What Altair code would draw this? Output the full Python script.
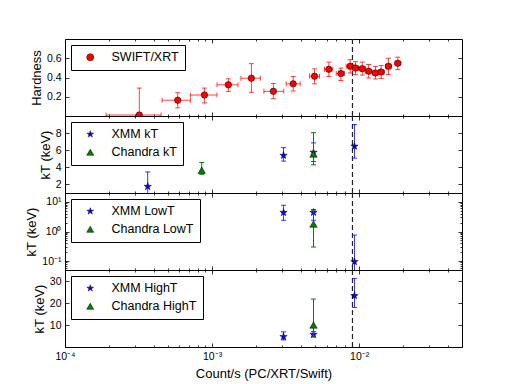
import altair as alt
import pandas as pd

# ---------------- data ----------------
swift_rate = [3.2e-4, 5.84e-4, 8.87e-4, 1.29e-3, 1.85e-3, 2.61e-3, 3.56e-3, 4.97e-3, 6.22e-3,
              7.51e-3, 8.68e-3, 9.44e-3, 1.05e-2, 1.16e-2, 1.29e-2, 1.41e-2, 1.58e-2, 1.83e-2]
swift_rate_lo = [1.9e-4, 4.57e-4, 7.12e-4, 1.08e-3, 1.57e-3, 2.25e-3, 3.19e-3, 4.59e-3, 5.81e-3,
                 6.98e-3, 8.16e-3, 9.0e-3, 1.0e-2, 1.1e-2, 1.23e-2, 1.35e-2, 1.51e-2, 1.75e-2]
swift_rate_hi = [4.5e-4, 7.12e-4, 1.08e-3, 1.50e-3, 2.13e-3, 3.07e-3, 3.97e-3, 5.37e-3, 6.62e-3,
                 7.94e-3, 9.2e-3, 9.9e-3, 1.1e-2, 1.22e-2, 1.35e-2, 1.48e-2, 1.65e-2, 1.92e-2]
swift_hr = [0.01, 0.164, 0.218, 0.324, 0.393, 0.256, 0.334, 0.413, 0.485,
            0.441, 0.516, 0.498, 0.492, 0.465, 0.447, 0.457, 0.516, 0.547]
swift_hr_lo = [-0.1, 0.085, 0.136, 0.256, 0.246, 0.18, 0.26, 0.334, 0.41,
               0.369, 0.447, 0.43, 0.425, 0.395, 0.385, 0.39, 0.43, 0.482]
swift_hr_hi = [0.29, 0.242, 0.29, 0.386, 0.544, 0.338, 0.41, 0.49, 0.56,
               0.498, 0.585, 0.565, 0.56, 0.535, 0.515, 0.525, 0.60, 0.611]

xmm_kt_rate = [3.65e-4, 3.06e-3, 4.89e-3, 9.29e-3]
xmm_kt = [1.76, 5.39, 5.75, 6.46]
xmm_kt_lo = [0.5, 4.73, 4.68, 5.08]
xmm_kt_hi = [3.46, 6.3, 6.86, 9.0]
chandra_kt_rate = [8.5e-4, 4.89e-3]
chandra_kt = [3.66, 5.56]
chandra_kt_lo = [3.19, 4.29]
chandra_kt_hi = [4.56, 8.05]

xmm_low_rate = [3.06e-3, 4.89e-3, 9.29e-3]
xmm_low = [4.37, 4.4, 0.095]
xmm_low_lo = [2.4, 2.4, 0.01]
xmm_low_hi = [7.7, 5.5, 0.76]
chandra_low_rate = [4.89e-3]
chandra_low = [1.78]
chandra_low_lo = [0.3]
chandra_low_hi = [5.3]

xmm_high_rate = [3.06e-3, 4.89e-3, 9.29e-3]
xmm_high = [4.7, 5.7, 23.3]
xmm_high_lo = [3.2, 4.5, 18.0]
xmm_high_hi = [6.9, 7.0, 31.2]
chandra_high_rate = [4.89e-3]
chandra_high = [10.0]
chandra_high_lo = [5.0]
chandra_high_hi = [21.8]

dash_rate = [0.009]

x_domain = [1e-4, 5e-2]
x_major = [1e-4, 1e-3, 1e-2]
x_minor = [2e-4, 3e-4, 4e-4, 5e-4, 6e-4, 7e-4, 8e-4, 9e-4,
           2e-3, 3e-3, 4e-3, 5e-3, 6e-3, 7e-3, 8e-3, 9e-3,
           2e-2, 3e-2, 4e-2]
x_title = "Count/s (PC/XRT/Swift)"

# ---------------- style ----------------
W, H = 397, 77
FONT = "Liberation Sans"
RED, BLUE, GREEN = "#ff0000", "#0000ff", "#008000"
STAR = ("M0,-1L0.2245,-0.309L0.951,-0.309L0.363,0.118L0.588,0.809L0,0.382"
        "L-0.588,0.809L-0.363,0.118L-0.951,-0.309L-0.2245,-0.309Z")
SUP = {-4: "⁻⁴", -3: "⁻³", -2: "⁻²", -1: "⁻¹", 0: "⁰", 1: "¹"}
MAJ = alt.ExprRef(expr="-4")
MIN = alt.ExprRef(expr="-2")


def pow_label_expr(exps):
    expr = "''"
    for e in exps:
        v = 10.0 ** e
        expr = f"abs(datum.value - {v!r}) < {v * 1e-6!r} ? '10{SUP[e]}' : ({expr})"
    return expr


def xs():
    return alt.Scale(type="log", domain=x_domain, nice=False)


def tick_axis(orient, values, size):
    return alt.Axis(orient=orient, values=values, ticks=True, tickSize=size, tickColor="black",
                    tickWidth=0.8, domain=False, grid=False, labels=False, title=None)


def legend():
    return alt.Legend(title=None, orient="top-left", offset=6, fillColor="white",
                      strokeColor="black", padding=6, symbolOffset=7, labelOffset=15,
                      labelFont=FONT, labelFontSize=12.5, rowPadding=5, symbolSize=50,
                      symbolStrokeColor="black", symbolStrokeWidth=0.5)


def series_layers(rate, val, lo, hi, name, ys, cdom, crange, sdom, srange, color,
                  msize, rate_lo=None, rate_hi=None, eopacity=0.8):
    d = {"x": rate, "y": val, "lo": lo, "hi": hi, "series": [name] * len(rate)}
    if rate_lo is not None:
        d["xlo"] = rate_lo
        d["xhi"] = rate_hi
    df = pd.DataFrame(d)
    base = alt.Chart(df)

    def X(f):
        return alt.X(f, type="quantitative", scale=xs(), axis=None)

    def Y(f):
        return alt.Y(f, type="quantitative", scale=ys, axis=None)

    layers = [
        base.mark_rule(color=color, strokeWidth=1, opacity=eopacity, clip=True).encode(
            x=X("x"), y=Y("lo"), y2="hi"),
        base.mark_tick(orient="horizontal", size=5, thickness=1, color=color,
                       opacity=eopacity, clip=True).encode(x=X("x"), y=Y("lo")),
        base.mark_tick(orient="horizontal", size=5, thickness=1, color=color,
                       opacity=eopacity, clip=True).encode(x=X("x"), y=Y("hi")),
    ]
    if rate_lo is not None:
        layers += [
            base.mark_rule(color=color, strokeWidth=1, opacity=eopacity, clip=True).encode(
                x=X("xlo"), x2="xhi", y=Y("y")),
            base.mark_tick(orient="vertical", size=5, thickness=1, color=color,
                           opacity=eopacity, clip=True).encode(x=X("xlo"), y=Y("y")),
            base.mark_tick(orient="vertical", size=5, thickness=1, color=color,
                           opacity=eopacity, clip=True).encode(x=X("xhi"), y=Y("y")),
        ]
    layers.append(
        base.mark_point(filled=True, size=msize, stroke="black", strokeWidth=0.5,
                        opacity=1, clip=True).encode(
            x=X("x"), y=Y("y"),
            color=alt.Color("series:N", scale=alt.Scale(domain=cdom, range=crange),
                            legend=legend()),
            shape=alt.Shape("series:N", scale=alt.Scale(domain=sdom, range=srange),
                            legend=legend()),
        )
    )
    return layers


def panel(ys_kwargs, ymid, ylab_values, yminor, ytitle, data_layers,
          bottom=False, ylabel_expr=None, yformat=None):
    def ys():
        return alt.Scale(**ys_kwargs)

    anchor = pd.DataFrame({"x": [1e-3], "y": [ymid]})
    ax_kw = dict(values=ylab_values, ticks=True, tickSize=MAJ, tickColor="black",
                 tickWidth=0.8, domain=False, grid=False, labelPadding=8, labelFlush=False,
                 title=ytitle, titlePadding=3)
    if ylabel_expr:
        ax_kw["labelExpr"] = ylabel_expr
    elif yformat:
        ax_kw["format"] = yformat
    if bottom:
        xaxis = alt.Axis(values=x_major, ticks=True, tickSize=MAJ, tickColor="black",
                         tickWidth=0.8, domain=False, grid=False, labelPadding=8,
                         labelFlush=False, labelExpr=pow_label_expr([-4, -3, -2]),
                         title=x_title, titlePadding=6)
    else:
        xaxis = tick_axis("bottom", x_major, MAJ)
    layers = [
        alt.Chart(anchor).mark_point(opacity=0).encode(
            x=alt.X("x:Q", scale=xs(), axis=xaxis),
            y=alt.Y("y:Q", scale=ys(), axis=alt.Axis(**ax_kw))),
        alt.Chart(anchor).mark_point(opacity=0).encode(
            x=alt.X("x:Q", scale=xs(), axis=tick_axis("top", x_major, MAJ)),
            y=alt.Y("y:Q", scale=ys(), axis=tick_axis("right", ylab_values, MAJ))),
        alt.Chart(anchor).mark_point(opacity=0).encode(
            x=alt.X("x:Q", scale=xs(), axis=tick_axis("bottom", x_minor, MIN)),
            y=alt.Y("y:Q", scale=ys(),
                    axis=tick_axis("left", yminor, MIN) if yminor else None)),
        alt.Chart(anchor).mark_point(opacity=0).encode(
            x=alt.X("x:Q", scale=xs(), axis=tick_axis("top", x_minor, MIN)),
            y=alt.Y("y:Q", scale=ys(),
                    axis=tick_axis("right", yminor, MIN) if yminor else None)),
        alt.Chart(pd.DataFrame({"x": dash_rate})).mark_rule(
            color="#222222", strokeWidth=1.2, strokeDash=[5, 3]).encode(
            x=alt.X("x:Q", scale=xs(), axis=None)),
    ]
    for f in data_layers:
        layers += f(ys())
    return alt.layer(*layers).resolve_axis(x="independent", y="independent").properties(
        width=W, height=H)


SH = [STAR, "triangle-up"]
CL = [BLUE, GREEN]

p1 = panel(dict(domain=[0, 0.8], nice=False, zero=False), 0.4, [0.2, 0.4, 0.6], [],
           "Hardness",
           [lambda ys: series_layers(swift_rate, swift_hr, swift_hr_lo, swift_hr_hi,
                                     "SWIFT/XRT", ys, ["SWIFT/XRT"], [RED],
                                     ["SWIFT/XRT"], ["circle"], RED, 42,
                                     swift_rate_lo, swift_rate_hi, 0.75)],
           yformat=".1f")

n2 = ["XMM kT", "Chandra kT"]
p2 = panel(dict(domain=[1, 10], nice=False, zero=False), 5, [2, 4, 6, 8], [], "kT (keV)",
           [lambda ys: series_layers(xmm_kt_rate, xmm_kt, xmm_kt_lo, xmm_kt_hi, n2[0],
                                     ys, n2, CL, n2, SH, BLUE, 60),
            lambda ys: series_layers(chandra_kt_rate, chandra_kt, chandra_kt_lo, chandra_kt_hi,
                                     n2[1], ys, n2, CL, n2, SH, GREEN, 55, eopacity=1)])

n3 = ["XMM LowT", "Chandra LowT"]
log_minor = [0.05, 0.06, 0.07, 0.08, 0.09, 0.2, 0.3, 0.4, 0.5, 0.6, 0.7, 0.8, 0.9,
             2, 3, 4, 5, 6, 7, 8, 9, 20]
p3 = panel(dict(type="log", domain=[0.05, 20], nice=False), 1, [0.1, 1, 10], log_minor,
           "kT (keV)",
           [lambda ys: series_layers(xmm_low_rate, xmm_low, xmm_low_lo, xmm_low_hi, n3[0],
                                     ys, n3, CL, n3, SH, BLUE, 60),
            lambda ys: series_layers(chandra_low_rate, chandra_low, chandra_low_lo,
                                     chandra_low_hi, n3[1], ys, n3, CL, n3, SH, GREEN, 55,
                                     eopacity=1)],
           ylabel_expr=pow_label_expr([-1, 0, 1]))

n4 = ["XMM HighT", "Chandra HighT"]
p4 = panel(dict(domain=[0, 35], nice=False, zero=False), 15, [10, 20, 30], [], "kT (keV)",
           [lambda ys: series_layers(xmm_high_rate, xmm_high, xmm_high_lo, xmm_high_hi, n4[0],
                                     ys, n4, CL, n4, SH, BLUE, 60),
            lambda ys: series_layers(chandra_high_rate, chandra_high, chandra_high_lo,
                                     chandra_high_hi, n4[1], ys, n4, CL, n4, SH, GREEN, 55,
                                     eopacity=1)],
           bottom=True)

chart = alt.vconcat(p1, p2, p3, p4, spacing=0, bounds="flush").resolve_scale(
    color="independent", shape="independent"
).properties(
    padding={"left": 17, "top": 29, "right": 5, "bottom": 5},
    background="white",
).configure_view(stroke="black", strokeWidth=1).configure_axis(
    labelFont=FONT, labelFontSize=10.5, labelColor="black", titleFont=FONT, titleFontSize=13,
    titleFontWeight="normal", titleColor="black"
)

chart.save("out.html", embed_options={"renderer": "svg", "actions": False})
